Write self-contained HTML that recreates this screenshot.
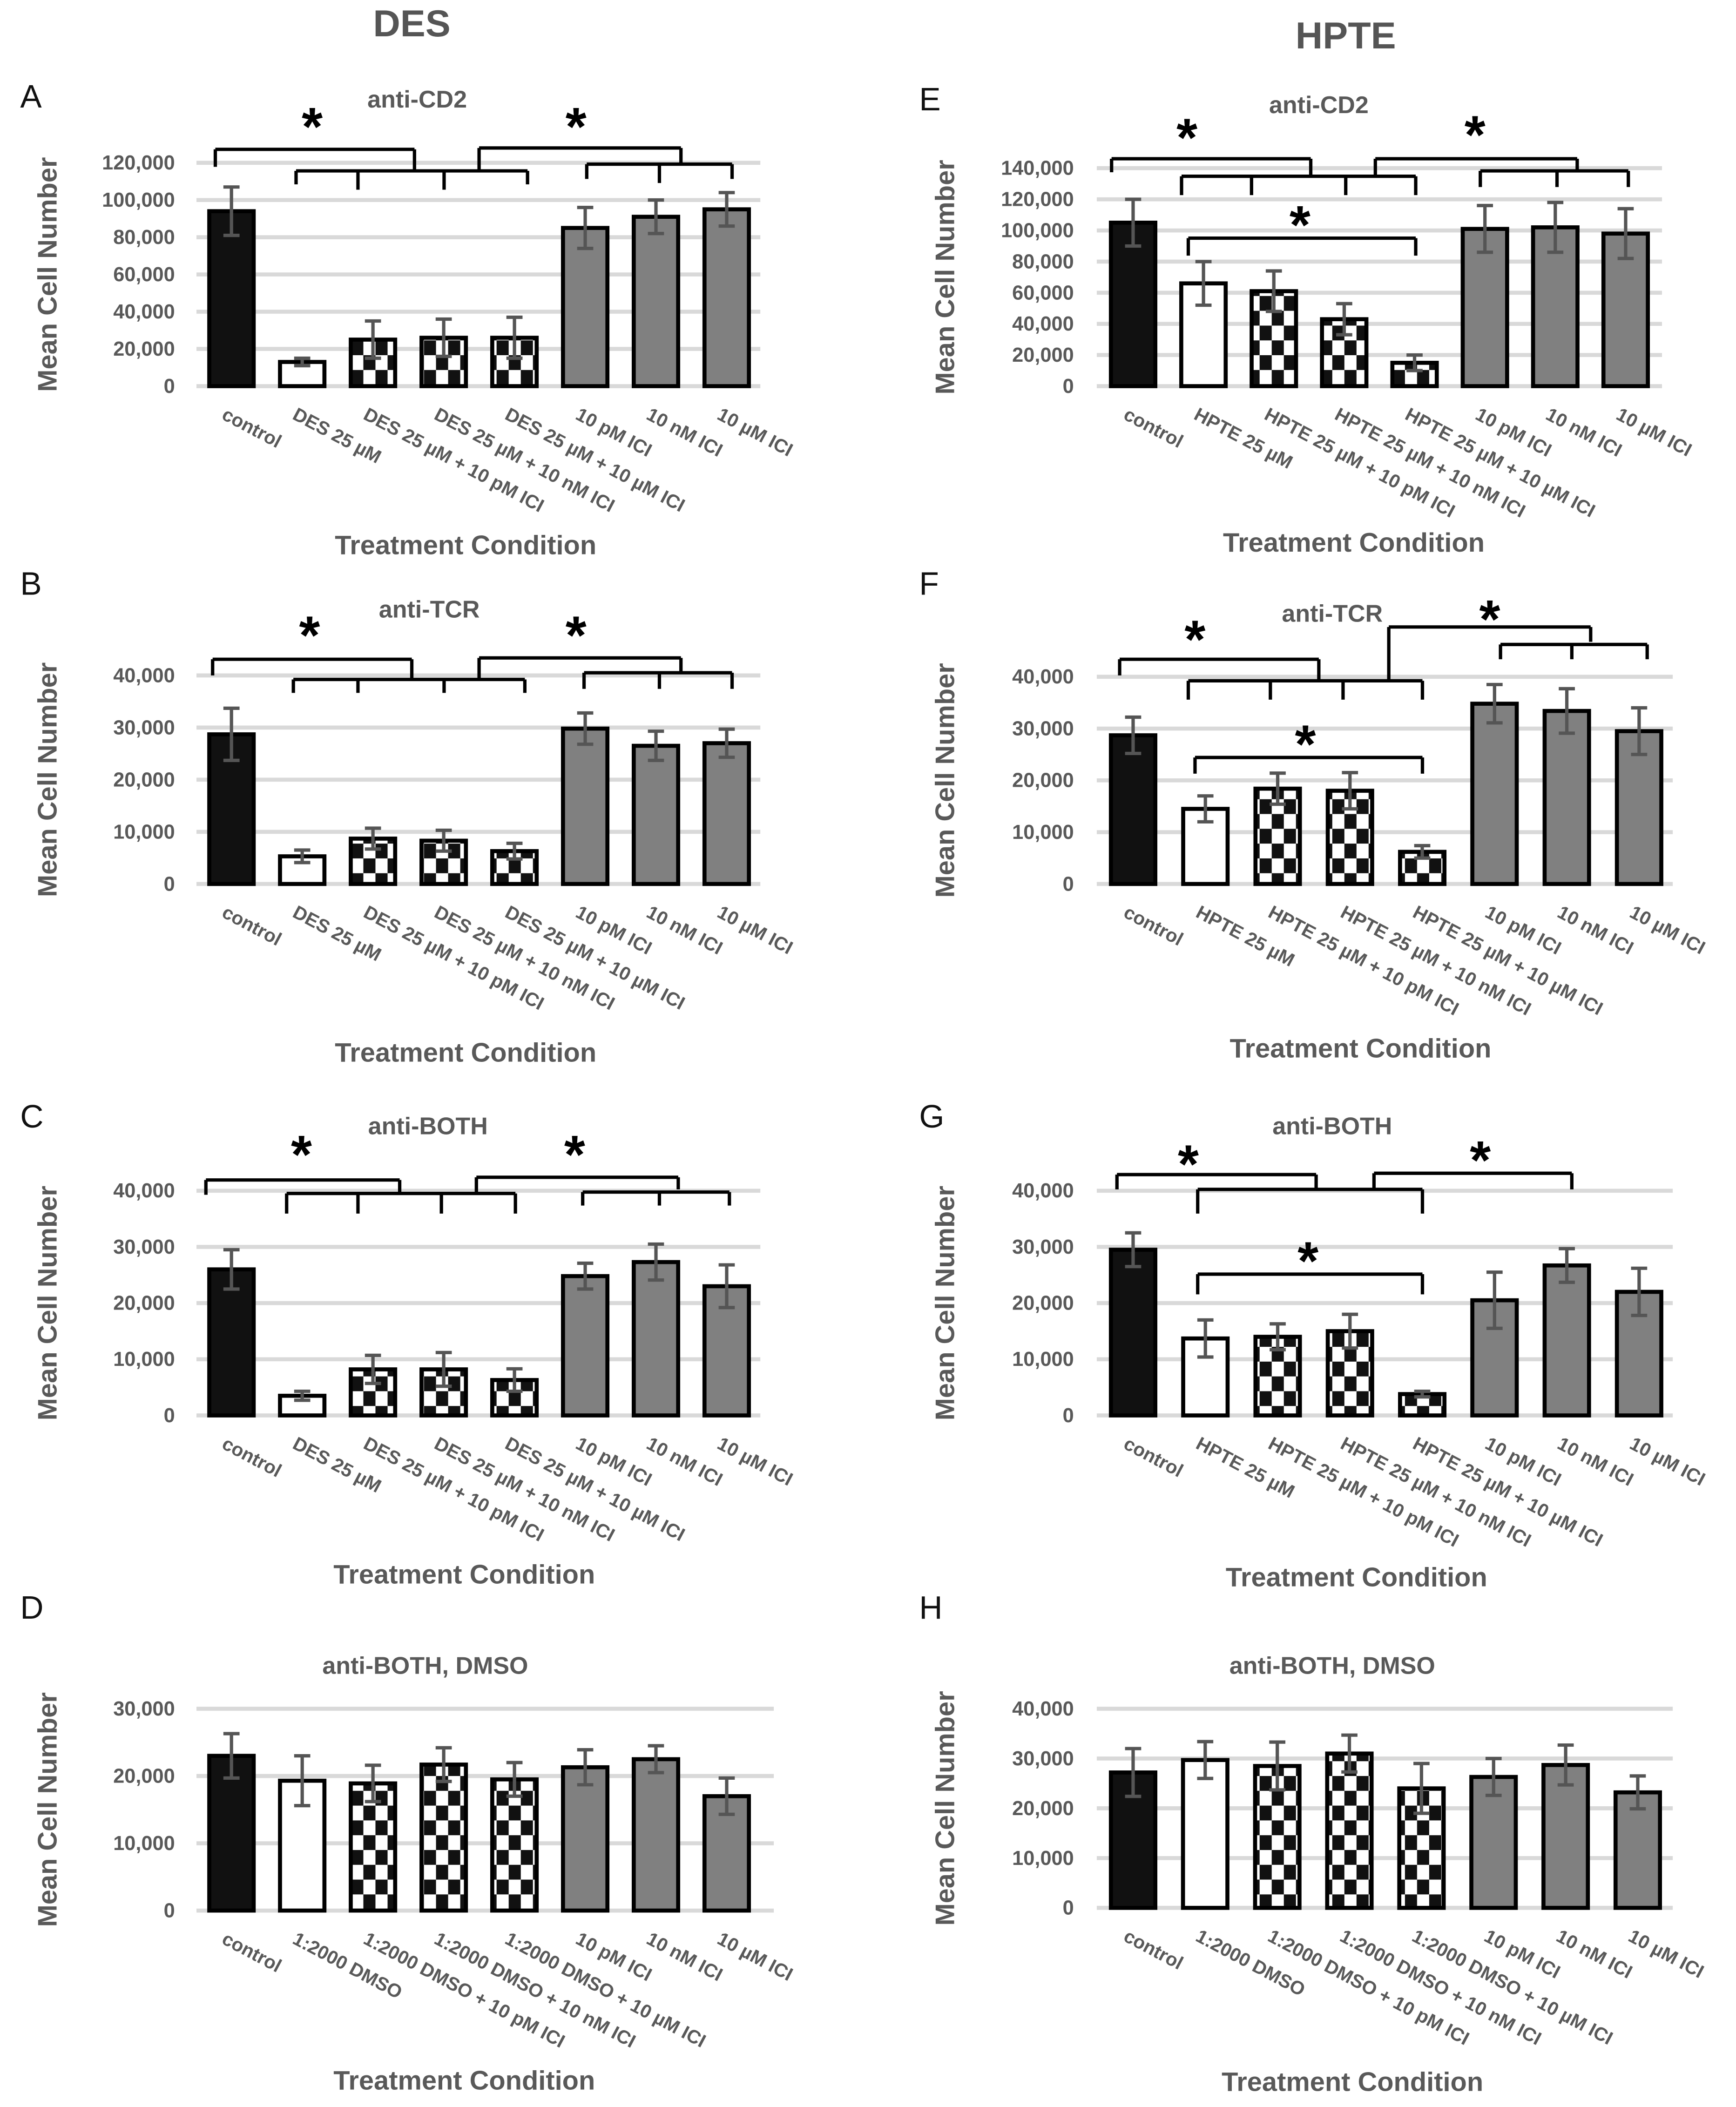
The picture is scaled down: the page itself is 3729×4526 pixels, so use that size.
<!DOCTYPE html>
<html><head><meta charset="utf-8"><title>Mean cell number charts</title>
<style>
html,body{margin:0;padding:0;background:#fff;}
svg{display:block;}
text{font-family:"Liberation Sans Narrow","Liberation Sans",sans-serif;}
</style></head>
<body>
<svg id="fig" xmlns="http://www.w3.org/2000/svg" width="3729" height="4526" viewBox="0 0 1290 1566" preserveAspectRatio="none">
<defs>
<pattern id="checker" patternUnits="userSpaceOnUse" width="18" height="22">
<rect width="18" height="22" fill="#fff"/>
<rect x="0" y="0" width="9" height="11" fill="#111"/>
<rect x="9" y="11" width="9" height="11" fill="#111"/>
</pattern>
</defs>
<text x="306" y="27" text-anchor="middle" font-size="28" font-weight="bold" fill="#555">DES</text>
<text x="1000" y="36" text-anchor="middle" font-size="28" font-weight="bold" fill="#555">HPTE</text>
</svg>
<script>
// ---- data arrays ----
const labelsDES = ["control","DES 25 µM","DES 25 µM + 10 pM ICI","DES 25 µM + 10 nM ICI","DES 25 µM + 10 µM ICI","10 pM ICI","10 nM ICI","10 µM ICI"];
const labelsHPTE = ["control","HPTE 25 µM","HPTE 25 µM + 10 pM ICI","HPTE 25 µM + 10 nM ICI","HPTE 25 µM + 10 µM ICI","10 pM ICI","10 nM ICI","10 µM ICI"];
const labelsDMSO = ["control","1:2000 DMSO","1:2000 DMSO + 10 pM ICI","1:2000 DMSO + 10 nM ICI","1:2000 DMSO + 10 µM ICI","10 pM ICI","10 nM ICI","10 µM ICI"];
const fillTypes = ["black","white","checker","checker","checker","gray","gray","gray"];

const valuesA = [94000,13000,25000,26000,26000,85000,91000,95000];
const errorsA = [13000,2000,10000,10000,11000,11000,9000,9000];
const valuesB = [28700,5300,8700,8300,6300,29800,26500,27000];
const errorsB = [5000,1200,2000,2000,1500,3000,2800,2700];
const valuesC = [26000,3500,8200,8200,6300,24800,27300,23000];
const errorsC = [3500,800,2500,3000,2000,2300,3200,3800];
const valuesD = [23000,19300,18900,21700,19500,21300,22500,17000];
const errorsD = [3300,3700,2700,2500,2500,2600,2000,2700];
const valuesE = [105000,66000,61000,43000,15000,101000,102000,98000];
const errorsE = [15000,14000,13000,10000,5000,15000,16000,16000];
const valuesF = [28700,14500,18400,18000,6200,34800,33400,29500];
const errorsF = [3500,2500,3000,3500,1200,3700,4300,4500];
const valuesG = [29500,13700,14000,15000,3800,20500,26700,22000];
const errorsG = [3000,3300,2300,3000,500,5000,3000,4200];
const valuesH = [27200,29700,28500,31000,24000,26300,28700,23200];
const errorsH = [4800,3700,4800,3700,5000,3700,4000,3300];

const ticksA = [0,20000,40000,60000,80000,100000,120000];
const ticksE = [0,20000,40000,60000,80000,100000,120000,140000];
const ticks40 = [0,10000,20000,30000,40000];
const ticks30 = [0,10000,20000,30000];

const NS = "http://www.w3.org/2000/svg";
const svg = document.getElementById("fig");
function mk(tag, attrs, parent){
  const e = document.createElementNS(NS, tag);
  for (const k in attrs) e.setAttribute(k, attrs[k]);
  (parent||svg).appendChild(e);
  return e;
}
function fmt(v){ return v.toLocaleString("en-US"); }

// layout: pixel positions (not data)
const panels = [
 {id:"a",letter:"A",lx:15,ly:80,title:"anti-CD2",tx:310,ty:80,vals:valuesA,errs:errorsA,labels:labelsDES,ticks:ticksA,yTop:121,yBot:287,gx0:146,gx1:565,c0:172,c1:540,xt:346,xty:412,yax:42,yl:130,
  brackets:[[111,[[160,124],[308,127]]],[127,[[220,137],[266,141],[330,141],[392,137]]],[110,[[356,127],[506,122]]],[122,[[436,133],[490,136],[544,133]]]],stars:[[232,94],[428,94]]},
 {id:"b",letter:"B",lx:15,ly:442,title:"anti-TCR",tx:319,ty:459,vals:valuesB,errs:errorsB,labels:labelsDES,ticks:ticks40,yTop:502,yBot:657,gx0:146,gx1:565,c0:172,c1:540,xt:346,xty:789,yax:42,yl:130,
  brackets:[[490,[[158,502],[306,505]]],[505,[[218,515],[266,515],[330,515],[390,515]]],[489,[[356,505],[506,500]]],[500,[[434,512],[490,512],[544,512]]]],stars:[[230,472],[428,472]]},
 {id:"c",letter:"C",lx:15,ly:838,title:"anti-BOTH",tx:318,ty:843,vals:valuesC,errs:errorsC,labels:labelsDES,ticks:ticks40,yTop:885,yBot:1052,gx0:146,gx1:565,c0:172,c1:540,xt:345,xty:1177,yax:42,yl:130,
  brackets:[[877,[[153,888],[297,887]]],[887,[[213,902],[266,902],[328,902],[383,902]]],[875,[[354,887],[504,884]]],[886,[[433,896],[490,896],[542,896]]]],stars:[[224,858],[427,858]]},
 {id:"d",letter:"D",lx:15,ly:1203,title:"anti-BOTH, DMSO",tx:316,ty:1244,vals:valuesD,errs:errorsD,labels:labelsDMSO,ticks:ticks30,yTop:1270,yBot:1420,gx0:146,gx1:575,c0:172,c1:540,xt:345,xty:1553,yax:42,yl:130,brackets:[],stars:[]},
 {id:"e",letter:"E",lx:683,ly:82,title:"anti-CD2",tx:980,ty:84,vals:valuesE,errs:errorsE,labels:labelsHPTE,ticks:ticksE,yTop:125,yBot:287,gx0:815,gx1:1235,c0:842,c1:1208,xt:1006,xty:410,yax:709,yl:798,
  brackets:[[118,[[826,128],[974,131]]],[131,[[878,145],[930,145],[1000,145],[1052,145]]],[118,[[1022,131],[1172,127]]],[127,[[1100,139],[1157,139],[1210,139]]],[177,[[883,190],[1052,190]]]],stars:[[882,102],[1096,100],[966,167]]},
 {id:"f",letter:"F",lx:683,ly:442,title:"anti-TCR",tx:990,ty:462,vals:valuesF,errs:errorsF,labels:labelsHPTE,ticks:ticks40,yTop:503,yBot:657,gx0:815,gx1:1243,c0:842,c1:1218,xt:1011,xty:786,yax:709,yl:798,
  brackets:[[490,[[832,502],[980,505]]],[506,[[883,520],[944,520],[998,520],[1057,520]]],[466,[[1032,506],[1182,477]]],[479,[[1115,490],[1168,490],[1224,490]]],[563,[[888,575],[1057,575]]]],stars:[[888,475],[1107,460],[970,553]]},
 {id:"g",letter:"G",lx:683,ly:838,title:"anti-BOTH",tx:990,ty:843,vals:valuesG,errs:errorsG,labels:labelsHPTE,ticks:ticks40,yTop:885,yBot:1052,gx0:815,gx1:1243,c0:842,c1:1218,xt:1008,xty:1179,yax:709,yl:798,
  brackets:[[873,[[830,884],[978,884]]],[884,[[890,902],[1057,902]]],[872,[[1021,884],[1168,884]]],[947,[[890,962],[1057,962]]]],stars:[[883,865],[1100,862],[972,937]]},
 {id:"h",letter:"H",lx:683,ly:1203,title:"anti-BOTH, DMSO",tx:990,ty:1244,vals:valuesH,errs:errorsH,labels:labelsDMSO,ticks:ticks40,yTop:1270,yBot:1418,gx0:815,gx1:1243,c0:842,c1:1217,xt:1005,xty:1554,yax:709,yl:798,brackets:[],stars:[]}
];

panels.forEach(p=>{
  const g = mk("g",{});
  
  
  const maxT = p.ticks[p.ticks.length-1];
  const yScale = v => p.yBot - (v/maxT)*(p.yBot-p.yTop);
  const step = (p.c1-p.c0)/(p.vals.length-1);
  const xScale = i => p.c0 + i*step;

  const L = mk("text",{x:p.lx,y:p.ly,"font-size":24,fill:"#111"},g); L.textContent=p.letter;
  
  
  const T = mk("text",{x:p.tx,y:p.ty,"text-anchor":"middle","font-size":18,"font-weight":"bold",fill:"#595959"},g); T.textContent=p.title;
  
  

  p.ticks.forEach(t=>{
    const y = yScale(t);
    const gl = mk("line",{x1:p.gx0,x2:p.gx1,y1:y,y2:y,stroke:"#d9d9d9","stroke-width":3},g);
    
    
    const tl = mk("text",{x:p.yl,y:y+5,"text-anchor":"end","font-size":15,"font-weight":"bold",fill:"#595959"},g);
    tl.textContent = fmt(t);
    
    
  });

  const midY = (p.yTop+p.yBot)/2;
  const ya = mk("text",{x:p.yax,y:midY,"text-anchor":"middle","font-size":20,"font-weight":"bold",fill:"#595959",transform:`rotate(-90 ${p.yax} ${midY})`,style:"font-family:'Liberation Sans',sans-serif"},g);
  ya.textContent="Mean Cell Number";
  
  

  const bw = 33;
  p.vals.forEach((v,i)=>{
    const cx = xScale(i), y = yScale(v);
    const ft = fillTypes[i];
    const fill = ft==="black"?"#111":ft==="white"?"#fff":ft==="gray"?"#808080":"url(#checker)";
    const r = mk("rect",{x:cx-bw/2,y:y,width:bw,height:p.yBot-y,fill:fill,stroke:"#000","stroke-width":3},g);
    
    
    const e = p.errs[i];
    const y1 = yScale(v+e), y2 = yScale(Math.max(0,v-e));
    const eb = mk("path",{d:`M${cx} ${y1}V${y2}M${cx-6} ${y1}H${cx+6}M${cx-6} ${y2}H${cx+6}`,stroke:"#555","stroke-width":2.5,fill:"none"},g);
    
    
    const lx = cx-8, ly = p.yBot+24;
    const xl = mk("text",{x:lx,y:ly,"font-size":14,"font-weight":"bold",fill:"#595959",transform:`rotate(28 ${lx} ${ly})`},g);
    xl.textContent = p.labels[i];
    
    
  });

  const xt = mk("text",{x:p.xt,y:p.xty,"text-anchor":"middle","font-size":20,"font-weight":"bold",fill:"#595959"},g);
  xt.textContent="Treatment Condition";
  
  

  p.brackets.forEach(b=>{
    const top=b[0], legs=b[1];
    const xs = legs.map(l=>l[0]);
    let d = `M${Math.min(...xs)} ${top}H${Math.max(...xs)}`;
    legs.forEach(l=>{ d += `M${l[0]} ${top}V${l[1]}`; });
    const br = mk("path",{d:d,stroke:"#000","stroke-width":2.5,fill:"none"},g);
    
    
  });
  p.stars.forEach(s=>{
    const st = mk("text",{x:s[0],y:s[1]+14,"text-anchor":"middle","font-size":40,"font-weight":"bold",fill:"#000",style:"font-family:'Liberation Sans',sans-serif"},g);
    st.textContent="*";
    
    
  });
});
</script>
</body></html>
